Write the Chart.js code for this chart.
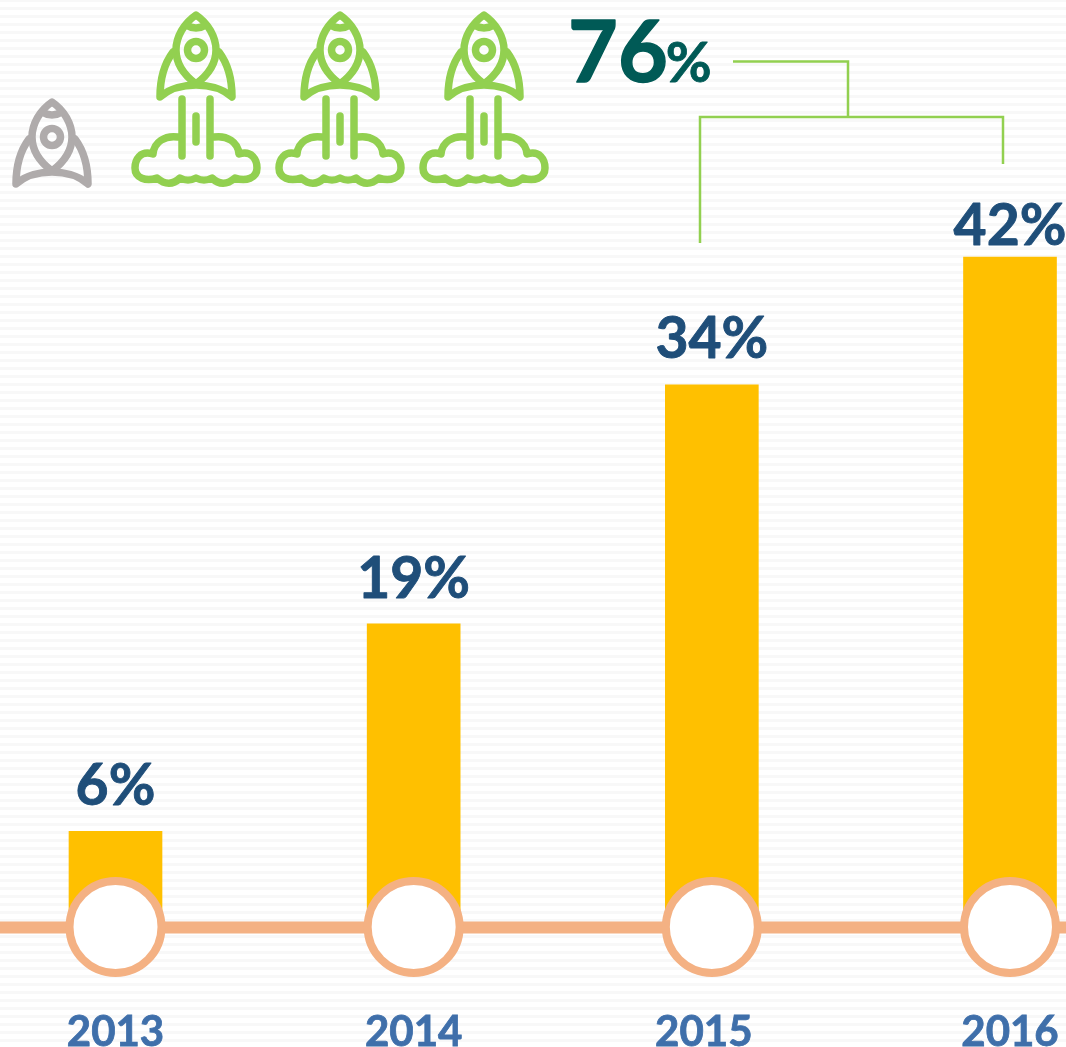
<!DOCTYPE html>
<html><head><meta charset="utf-8">
<style>
html,body{margin:0;padding:0;width:1066px;height:1047px;overflow:hidden;
background:linear-gradient(to bottom,#f8f8f8 0,#f8f8f8 3px,#ffffff 3px,#ffffff 8px) 0 -1px/100% 8px repeat;}
#w{position:relative;width:1066px;height:1047px}
</style>
<script src="https://cdn.jsdelivr.net/npm/chart.js@4"></script>
</head><body><div id="w"><canvas id="c" width="1066" height="1047"></canvas></div>
<script>
const years = ['2013','2014','2015','2016'];
const shares = [6,19,34,42];
const baselineValues = [0,0,0,0];
const totalShare = 76;
const labelGaps = [26,26,27,12];
const yearNudges = [0,0,-8,0];

const FONT = 'Lato, "Open Sans", sans-serif';
const GREEN = '#92D050', GRAY = '#AFABAB', PEACH = '#F4B183';

function rocket(ctx, dx, dy, color, flames){
  ctx.save();
  ctx.translate(dx, dy);
  ctx.strokeStyle = color; ctx.lineWidth = 7.5; ctx.lineCap='round'; ctx.lineJoin='round';
  const s = p => ctx.stroke(new Path2D(p));
  s('M196,15 C184,23 176,37 176,50 C176,63 184,75 196,84 C208,75 216,63 216,50 C216,37 208,23 196,15 Z');
  s('M186,25 Q196,31 206,25');
  ctx.beginPath(); ctx.arc(196,50,8.5,0,Math.PI*2); ctx.stroke();
  s('M173,52 C164,64 160,80 160,97 C170,88 185,85 196,85 C207,85 222,88 232,97 C232,80 228,64 219,52');
  if(flames){
    s('M182,99 L182,156 M196,116 L196,142 M210,99 L210,156');
    s('M178,137 C165,135 154,142 153,154 C140,150 135,160 135,168 C135,178 146,182 157,178 C165,185 173,185 180,178 C186,181 190,181 196,178 C202,181 206,181 212,178 C219,185 227,185 235,178 C246,182 257,178 257,168 C257,160 252,150 239,154 C238,142 227,135 214,137');
  }
  ctx.restore();
}

const decor = {
  id:'decor',
  beforeDraw(chart){
    const x = chart.scales.x;
    x.getLabelItems().forEach((item,i)=>{
      item.options.translation[0] = x.getPixelForTick(i) + yearNudges[i];
    });
  },
  beforeDatasetsDraw(chart){
    const {ctx, scales:{y}} = chart;
    const py = y.getPixelForValue(0);
    ctx.save();
    ctx.fillStyle = PEACH;
    ctx.fillRect(0, py-5.5, chart.width, 12);
    ctx.restore();
  },
  afterDraw(chart){
    const {ctx, scales:{x,y}} = chart;
    ctx.save();
    ctx.textAlign='center'; ctx.textBaseline='alphabetic';
    ctx.fillStyle = '#1F4E79'; ctx.strokeStyle='#1F4E79'; ctx.lineWidth=0.9; ctx.lineJoin='round';
    ctx.font = '700 57px '+FONT;
    shares.forEach((v,i)=>{
      const px=x.getPixelForValue(i), py=y.getPixelForValue(v)-labelGaps[i];
      ctx.fillText(v+'%', px, py);
      ctx.strokeText(v+'%', px, py);
    });
    ctx.fillStyle = '#005A56'; ctx.strokeStyle='#005A56'; ctx.lineWidth=1.4;
    ctx.textAlign='left';
    ctx.font = '700 86px '+FONT;
    ctx.fillText(String(totalShare), 568, 82);
    ctx.strokeText(String(totalShare), 568, 82);
    const w = ctx.measureText(String(totalShare)).width;
    ctx.font = '700 56px '+FONT;
    ctx.lineWidth=0.8;
    ctx.fillText('%', 568+w-2, 82);
    ctx.strokeText('%', 568+w-2, 82);
    ctx.strokeStyle = GREEN; ctx.lineWidth = 2.5; ctx.lineCap='butt'; ctx.lineJoin='miter';
    ctx.stroke(new Path2D('M733,61.5 H848 V117 M700,243 V117 H1003 V164'));
    rocket(ctx,-144,87,GRAY,false);
    rocket(ctx,0,0,GREEN,true);
    rocket(ctx,144,0,GREEN,true);
    rocket(ctx,288,0,GREEN,true);
    ctx.restore();
  }
};

new Chart(document.getElementById('c'),{
  type:'bar',
  data:{labels:years,datasets:[
    {type:'line',data:baselineValues,order:0,clip:false,showLine:false,
     pointRadius:46,pointHoverRadius:46,pointBackgroundColor:'#ffffff',pointBorderColor:PEACH,pointBorderWidth:8},
    {type:'bar',data:shares,order:1,backgroundColor:'#FFC000',borderWidth:0,barThickness:93,clip:false}
  ]},
  plugins:[decor],
  options:{
    responsive:false,animation:false,
    layout:{autoPadding:false,padding:{left:115.5,right:56,top:0,bottom:0}},
    plugins:{legend:{display:false},tooltip:{enabled:false},title:{display:false}},
    scales:{
      x:{offset:false,grid:{display:false},border:{display:false},
         afterFit(s){s.height=120;s.paddingLeft=0;s.paddingRight=0;s.paddingTop=0;s.paddingBottom=0;},
         ticks:{color:'#3F6FAA',textStrokeColor:'#3F6FAA',textStrokeWidth:0.8,font:{family:FONT,size:42,weight:'700'},padding:72,maxRotation:0,autoSkip:false}},
      y:{display:false,min:0,max:58.12}
    }
  }
});
</script></body></html>
